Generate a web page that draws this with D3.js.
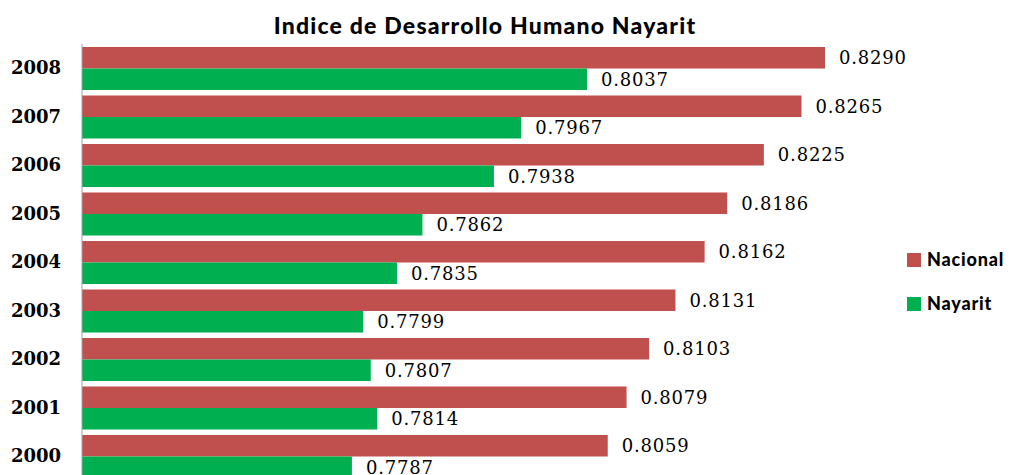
<!DOCTYPE html>
<html>
<head>
<meta charset="utf-8">
<script src="https://cdn.jsdelivr.net/npm/d3@7"></script>
<style>
  body { margin: 0; background: #fff; }
  #chart { width: 1010px; height: 475px; overflow: hidden; }
</style>
</head>
<body>
<div id="chart"></div>
<script>
// data
const years = ["2008", "2007", "2006", "2005", "2004", "2003", "2002", "2001", "2000"];
const series = ["Nacional", "Nayarit"];
const nacional = [0.8290, 0.8265, 0.8225, 0.8186, 0.8162, 0.8131, 0.8103, 0.8079, 0.8059];
const nayarit = [0.8037, 0.7967, 0.7938, 0.7862, 0.7835, 0.7799, 0.7807, 0.7814, 0.7787];
const colors = ["#C0504D", "#00B050"];

const width = 1010, height = 475;

const svg = d3.select("#chart")
    .append("svg")
    .attr("width", width)
    .attr("height", height);

const x = d3.scaleLinear()
    .domain([0.75, 0.83])
    .range([82, 834.4]);

const y = d3.scaleBand()
    .domain(years)
    .range([47, 478])
    .paddingInner(0.113)
    .paddingOuter(0);

const ySub = d3.scaleBand()
    .domain(series)
    .range([0, y.bandwidth()]);

const rows = years.map((yr, i) => ({ year: yr, values: [nacional[i], nayarit[i]] }));

// title
svg.append("text")
    .attr("x", 485)
    .attr("y", 34)
    .attr("text-anchor", "middle")
    .style("font-family", "Lato, sans-serif")
    .style("font-weight", "900")
    .style("font-size", "23px")
    .style("letter-spacing", "1.2px")
    .text("Indice de Desarrollo Humano Nayarit");

const groups = svg.selectAll(".grp")
    .data(rows)
    .enter()
    .append("g")
    .attr("class", "grp")
    .attr("transform", d => `translate(0,${y(d.year)})`);

groups.selectAll("rect")
    .data(d => d.values.map((v, j) => ({ key: series[j], value: v, j: j })))
    .enter()
    .append("rect")
    .attr("x", x(0.75))
    .attr("y", d => ySub(d.key))
    .attr("width", d => x(d.value) - x(0.75))
    .attr("height", ySub.bandwidth())
    .attr("fill", d => colors[d.j]);

groups.selectAll(".val")
    .data(d => d.values.map((v, j) => ({ key: series[j], value: v })))
    .enter()
    .append("text")
    .attr("class", "val")
    .attr("x", d => x(d.value) + 14)
    .attr("y", d => ySub(d.key) + ySub.bandwidth() / 2)
    .attr("dy", "0.36em")
    .style("font-family", "'DejaVu Serif', serif")
    .style("font-size", "18px")
    .style("letter-spacing", "0.8px")
    .text(d => d.value.toFixed(4));

// category axis
const yAxis = svg.append("g")
    .attr("transform", `translate(${x(0.75)},0)`)
    .call(d3.axisLeft(y).tickSize(0).tickPadding(21));

yAxis.select(".domain")
    .attr("d", `M0,44V${height}`)
    .attr("stroke", "#A0A0A0");

yAxis.selectAll("text")
    .style("font-family", "'DejaVu Serif', serif")
    .style("font-weight", "bold")
    .style("font-size", "18px")
    .attr("fill", "#000");

// legend
const legend = svg.append("g")
    .attr("transform", "translate(907,253)");

const item = legend.selectAll("g")
    .data(series)
    .enter()
    .append("g")
    .attr("transform", (d, i) => `translate(0,${i * 44})`);

item.append("rect")
    .attr("width", 14)
    .attr("height", 14)
    .attr("fill", (d, i) => colors[i]);

item.append("text")
    .attr("x", 20)
    .attr("y", 7)
    .attr("dy", "0.36em")
    .style("font-family", "Lato, sans-serif")
    .style("font-weight", "900")
    .style("font-size", "18px")
    .style("letter-spacing", "0.8px")
    .text(d => d);
</script>
</body>
</html>
